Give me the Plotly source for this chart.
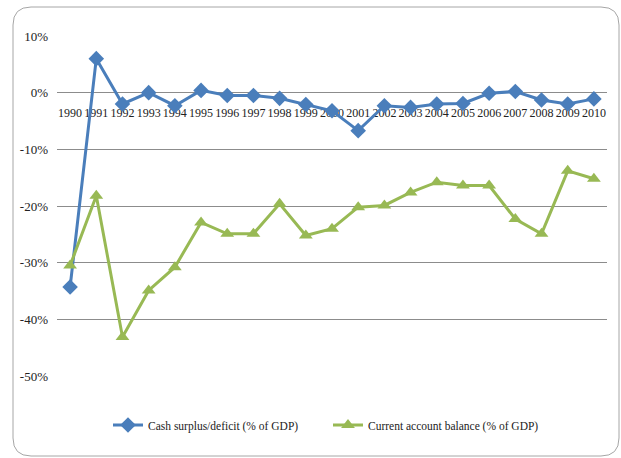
import plotly.graph_objects as go

years = [str(y) for y in range(1990, 2011)]
cash_surplus = [-34.3, 6.0, -2.0, 0.0, -2.3, 0.4, -0.5, -0.5, -1.0, -2.1, -3.2,
                -6.7, -2.3, -2.6, -2.0, -1.9, -0.1, 0.2, -1.3, -2.0, -1.1]
current_account = [-30.5, -18.2, -43.1, -34.9, -30.8, -22.9, -24.9, -24.9, -19.6, -25.2, -24.0,
                   -20.2, -19.9, -17.6, -15.8, -16.4, -16.4, -22.3, -24.9, -13.8, -15.2]
y_ticks = [10, 0, -10, -20, -30, -40, -50]
y_tick_labels = ["10%", "0%", "-10%", "-20%", "-30%", "-40%", "-50%"]

FONT = "'Liberation Serif', 'Times New Roman', serif"
BLUE = "#4A7EBB"
GREEN = "#98B954"

fig = go.Figure()
# year labels sitting under the 0% line (axis crosses at zero)
fig.add_trace(go.Scatter(
    x=years, y=[0] * len(years), mode="text", text=["<br>" + y for y in years],
    textposition="bottom center", showlegend=False, hoverinfo="skip",
    textfont=dict(family=FONT, size=12, color="#222"),
))
fig.add_trace(go.Scatter(
    x=years, y=cash_surplus, mode="lines+markers",
    name="Cash surplus/deficit (% of GDP)",
    line=dict(color=BLUE, width=3),
    marker=dict(symbol="diamond", size=12, color=BLUE),
))
fig.add_trace(go.Scatter(
    x=years, y=current_account, mode="lines+markers",
    name="Current account balance (% of GDP)",
    line=dict(color=GREEN, width=3),
    marker=dict(symbol="triangle-up", size=12, color=GREEN),
))

# rounded chart border in paper coords
L, T, PW, PH, H = 57, 36, 550, 340, 458
def px(x): return (x - L) / PW
def py(y): return (T + PH - y) / PH
x0, x1, y0, y1, r = 13, 619, 7, 456, 18
path = (f"M {px(x0 + r)} {py(y0)} L {px(x1 - r)} {py(y0)} "
        f"Q {px(x1)} {py(y0)} {px(x1)} {py(y0 + r)} L {px(x1)} {py(y1 - r)} "
        f"Q {px(x1)} {py(y1)} {px(x1 - r)} {py(y1)} L {px(x0 + r)} {py(y1)} "
        f"Q {px(x0)} {py(y1)} {px(x0)} {py(y1 - r)} L {px(x0)} {py(y0 + r)} "
        f"Q {px(x0)} {py(y0)} {px(x0 + r)} {py(y0)} Z")
fig.add_shape(type="path", path=path, xref="paper", yref="paper",
              line=dict(color="#A6A6A6", width=1), layer="below")

fig.update_layout(
    width=621, height=458,
    margin=dict(l=L, r=621 - L - PW, t=T, b=H - T - PH, autoexpand=False),
    paper_bgcolor="white", plot_bgcolor="white",
    font=dict(family=FONT, size=12, color="#222"),
    showlegend=True,
    legend=dict(orientation="h", x=px(108), y=py(425), xanchor="left", yanchor="middle",
                font=dict(family=FONT, size=11.5), bgcolor="rgba(0,0,0,0)",
                itemwidth=30, entrywidth=175, entrywidthmode="pixels"),
    xaxis=dict(type="category", showticklabels=False, showgrid=False, zeroline=False,
               showline=False, ticks="", range=[-0.5, len(years) - 0.5]),
    yaxis=dict(range=[-50, 10], tickvals=y_ticks, ticktext=y_tick_labels,
               showgrid=True, gridcolor="#8C8C8C", gridwidth=1, zeroline=False,
               showline=False, ticks="", ticklabelstandoff=8,
               tickfont=dict(family=FONT, size=13, color="#222")),
)

fig.write_html("out.html")
